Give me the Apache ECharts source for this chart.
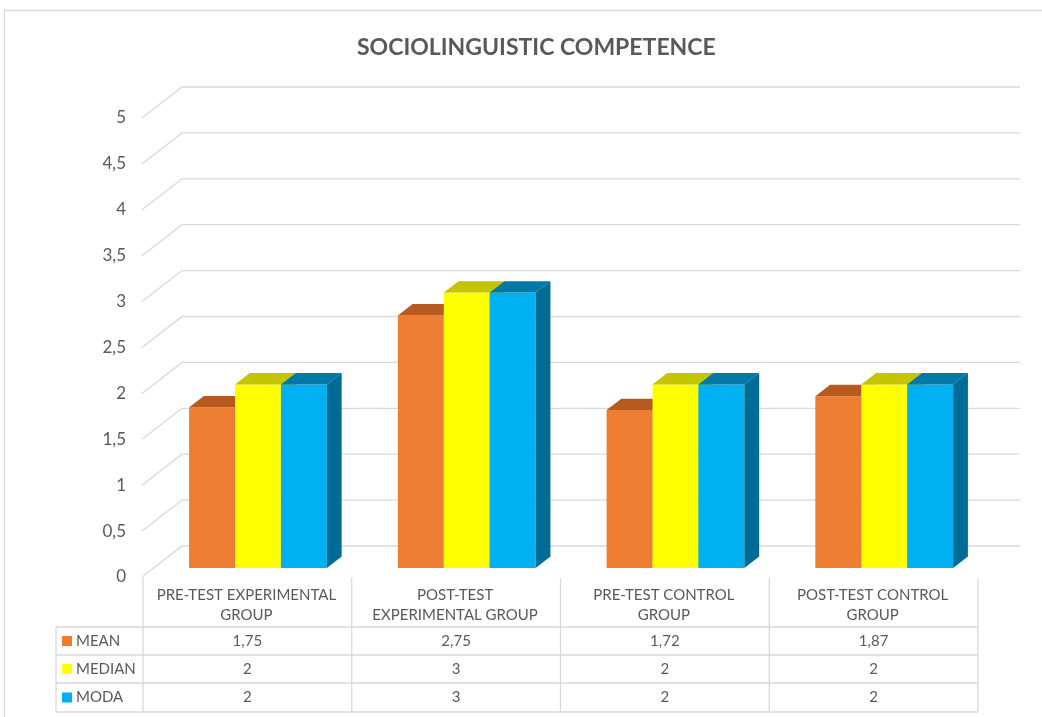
<!DOCTYPE html>
<html>
<head>
<meta charset="utf-8">
<script src="https://cdn.jsdelivr.net/npm/echarts@6/dist/echarts.min.js"></script>
<style>
  html, body { margin: 0; padding: 0; background: #fff; }
  #chart { width: 1042px; height: 717px; }
</style>
</head>
<body>
<div id="chart"></div>
<script>
// data
var categories = ['PRE-TEST EXPERIMENTAL\nGROUP', 'POST-TEST\nEXPERIMENTAL GROUP', 'PRE-TEST CONTROL\nGROUP', 'POST-TEST CONTROL\nGROUP']
var seriesNames = ['MEAN', 'MEDIAN', 'MODA']
var meanData = [1.75, 2.75, 1.72, 1.87]
var medianData = [2, 3, 2, 2]
var modaData = [2, 3, 2, 2]
var yTicks = [0, 0.5, 1, 1.5, 2, 2.5, 3, 3.5, 4, 4.5, 5]

// colours: front, top, side
var colors = [
  ['#ED7D31', '#B65A1F', '#B65A1F'],
  ['#FFFF00', '#C4C400', '#C4C400'],
  ['#00B0F0', '#0079A8', '#006C96']
]

var FONT = 'Lato'
var TXT = '#595959'
var LINE = '#D9D9D9'

// layout of the 3D box
var GRID_LEFT = 142
var GRID_TOP = 118
var GRID_W = 835
var GRID_H = 459
var DEPTH_X = 40
var DEPTH_Y = -31
var BAR_POS = 0.29 // where the bars stand inside the depth
var BAR_DEPTH = 0.37

function fmt (v) {
  return String(v).replace('.', ',')
}

function gridRender (params, api) {
  var cs = params.coordSys
  var y = api.coord([0, api.value(1)])[1]
  return {
    type: 'polyline',
    shape: {
      points: [[cs.x, y], [cs.x + DEPTH_X, y + DEPTH_Y], [cs.x + cs.width + 43, y + DEPTH_Y]]
    },
    style: { stroke: LINE, lineWidth: 1.3, fill: null }
  }
}

function barRender (idx) {
  return function (params, api) {
    var i = api.value(0)
    var v = api.value(1)
    var p = api.coord([i, v])
    var p0 = api.coord([i, 0])
    var band = api.size([1, 0])[0]
    var bw = band * 0.22
    var dx0 = DEPTH_X * BAR_POS
    var dy0 = DEPTH_Y * BAR_POS
    var dx = DEPTH_X * BAR_DEPTH
    var dy = DEPTH_Y * BAR_DEPTH
    var x = p[0] - bw * 1.5 + idx * bw + dx0
    var yt = p[1] + dy0
    var yb = p0[1] + dy0
    var c = colors[idx]
    return {
      type: 'group',
      children: [
        { type: 'rect', shape: { x: x, y: yt, width: bw, height: yb - yt }, style: { fill: c[0] } },
        { type: 'polygon', shape: { points: [[x, yt], [x + dx, yt + dy], [x + bw + dx, yt + dy], [x + bw, yt]] }, style: { fill: c[1] } },
        { type: 'polygon', shape: { points: [[x + bw, yt], [x + bw + dx, yt + dy], [x + bw + dx, yb + dy], [x + bw, yb]] }, style: { fill: c[2] } }
      ]
    }
  }
}

var allData = [meanData, medianData, modaData]

var series = [{
  type: 'custom',
  name: 'grid',
  renderItem: gridRender,
  data: yTicks.map(function (t) { return [0, t] }),
  encode: { x: 0, y: 1 },
  silent: true,
  z: 1
}]
allData.forEach(function (d, k) {
  series.push({
    type: 'custom',
    name: seriesNames[k],
    renderItem: barRender(k),
    data: d.map(function (v, i) { return [i, v] }),
    encode: { x: 0, y: 1 },
    z: 2 + k
  })
})

// table under the plot
function buildTable () {
  var g = []
  var colW = GRID_W / 4
  var yTop = GRID_TOP + GRID_H + 1
  var rows = [627, 655, 683, 712]
  var xl = 56
  // outer frame of the whole chart
  g.push({ type: 'rect', shape: { x: 4.5, y: 10.5, width: 1100, height: 800 }, style: { fill: null, stroke: LINE, lineWidth: 1.3 }, z: 0 })
  for (var c = 0; c <= 4; c++) {
    var x = GRID_LEFT + 1 + c * colW
    g.push({ type: 'line', shape: { x1: x, y1: yTop, x2: x, y2: rows[3] }, style: { stroke: LINE, lineWidth: 1.3 } })
  }
  g.push({ type: 'line', shape: { x1: xl, y1: rows[0], x2: xl, y2: rows[3] }, style: { stroke: LINE, lineWidth: 1.3 } })
  rows.forEach(function (ry) {
    g.push({ type: 'line', shape: { x1: xl, y1: ry, x2: GRID_LEFT + 1 + GRID_W, y2: ry }, style: { stroke: LINE, lineWidth: 1.3 } })
  })
  allData.forEach(function (d, k) {
    var cy = (rows[k] + rows[k + 1]) / 2
    g.push({ type: 'rect', shape: { x: 62, y: cy - 5, width: 10, height: 10 }, style: { fill: colors[k][0] } })
    g.push({ type: 'text', x: 76, y: cy, style: { text: seriesNames[k], fill: TXT, font: '15px ' + FONT, verticalAlign: 'middle', align: 'left' } })
    d.forEach(function (v, i) {
      g.push({ type: 'text', x: GRID_LEFT + 1 + (i + 0.5) * colW, y: cy, style: { text: fmt(v), fill: TXT, font: '15px ' + FONT, verticalAlign: 'middle', align: 'center' } })
    })
  })
  return g
}

var option = {
  backgroundColor: '#fff',
  animation: false,
  title: {
    text: 'SOCIOLINGUISTIC COMPETENCE',
    left: 352,
    top: 31,
    textStyle: { fontFamily: FONT, fontSize: 23, fontWeight: 'bold', color: TXT }
  },
  grid: { left: GRID_LEFT, top: GRID_TOP, width: GRID_W, height: GRID_H },
  xAxis: {
    type: 'category',
    data: categories,
    axisLine: { show: false },
    axisTick: { show: false },
    splitLine: { show: false },
    axisLabel: { color: TXT, fontFamily: FONT, fontSize: 15, lineHeight: 20, margin: 8, interval: 0 }
  },
  yAxis: {
    type: 'value',
    min: 0,
    max: 5,
    interval: 0.5,
    axisLine: { show: false },
    axisTick: { show: false },
    splitLine: { show: false },
    axisLabel: { color: TXT, fontFamily: FONT, fontSize: 17, margin: 16, formatter: fmt }
  },
  graphic: buildTable(),
  series: series
}

var myChart = echarts.init(document.getElementById('chart'))
myChart.setOption(option)
window.addEventListener('resize', function () {
  myChart.resize()
})
</script>
</body>
</html>
